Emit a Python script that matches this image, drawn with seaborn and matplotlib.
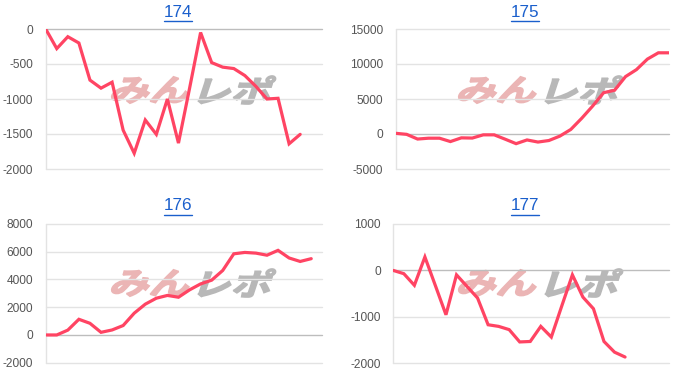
import numpy as np
import pandas as pd
import matplotlib
matplotlib.use("Agg")
import matplotlib.pyplot as plt
from matplotlib.lines import Line2D
from matplotlib.textpath import TextPath
from matplotlib.patches import PathPatch
from matplotlib.transforms import Affine2D
from matplotlib.font_manager import FontProperties
import seaborn as sns

# ---- data ----
titles = ["174", "175", "176", "177"]
values_174 = [0, -280, -110, -200, -730, -845, -760, -1445, -1775, -1300, -1505, -1000,
              -1630, -850, -50, -480, -545, -565, -665, -820, -1000, -990, -1640, -1505]
values_175 = [100, -50, -720, -600, -600, -1080, -550, -580, -120, -120, -740, -1380,
              -850, -1150, -930, -300, 650, 2250, 4000, 5900, 6250, 8200, 9200, 10700,
              11600, 11600]
values_176 = [0, 0, 350, 1130, 840, 190, 360, 680, 1570, 2220, 2650, 2850, 2720, 3250,
              3680, 3950, 4650, 5850, 5950, 5900, 5750, 6100, 5550, 5300, 5500]
values_177 = [0, -70, -320, 290, -330, -955, -95, -345, -595, -1170, -1205, -1275, -1540,
              -1530, -1205, -1435, -760, -95, -575, -825, -1530, -1760, -1865]
ticks_174 = [0, -500, -1000, -1500, -2000]
ticks_175 = [15000, 10000, 5000, 0, -5000]
ticks_176 = [8000, 6000, 4000, 2000, 0, -2000]
ticks_177 = [1000, 0, -1000, -2000]
watermark_a = "みん"
watermark_b = "レポ"
xmax = [25, 25, 25, 26.2]

series = [values_174, values_175, values_176, values_177]
ticks = [ticks_174, ticks_175, ticks_176, ticks_177]

sns.set_style("white")
plt.rcParams["font.family"] = ["Liberation Sans", "Noto Sans CJK JP", "DejaVu Sans"]

W, H = 700, 386
fig = plt.figure(figsize=(7.0, 3.86), dpi=100)

# axes boxes in pixels: left, top, right, bottom
boxes = [(45.7, 29, 322.3, 169), (395.7, 29, 669.3, 169),
         (45.7, 224, 322.3, 362.7), (393.3, 224, 669.3, 363.3)]
title_pos = [(178, 16.7), (525, 16.7), (178, 210.5), (525, 210.5)]
wm_pos = [(195, 90), (542, 90), (195, 283), (542, 283)]

line_color = "#ff4463"
link_color = "#1a5fcc"
fp_wm = FontProperties(family="Noto Sans CJK JP", weight="bold")


def watermark(ax, text, cx, cy, color):
    tp = TextPath((0, 0), text, size=37, prop=fp_wm)
    ext = tp.get_extents()
    tr = (Affine2D().translate(-(ext.x0 + ext.x1) / 2, -(ext.y0 + ext.y1) / 2)
          .skew_deg(14, 0).scale(1.08, 0.82).translate(cx, H - cy))
    ax.add_patch(PathPatch(tp, transform=tr, facecolor=color, edgecolor=color,
                           lw=1.2, zorder=0.5))


for i, (vals, tks) in enumerate(zip(series, ticks)):
    l, t, r, b = boxes[i]
    ax = fig.add_axes([l / W, (H - b) / H, (r - l) / W, (b - t) / H])
    for s in ax.spines.values():
        s.set_visible(False)
    ymin, ymax = min(tks), max(tks)
    for v in tks:
        ax.axhline(v, color="#bdbdbd" if v == 0 else "#e3e3e3", lw=1.0,
                   clip_on=False, zorder=1)
    ax.axvline(0, color="#e3e3e3", lw=1.0, clip_on=False, zorder=1)

    cx, cy = wm_pos[i]
    watermark(ax, watermark_a, cx - 43, cy, "#ebb5b5")
    watermark(ax, watermark_b, cx + 42, cy, "#b8b8b8")

    df = pd.DataFrame({"x": np.arange(len(vals)), "y": vals})
    sns.lineplot(data=df, x="x", y="y", ax=ax, color=line_color, lw=2.3,
                 zorder=3, solid_joinstyle="miter")
    ax.set_xlim(0, xmax[i])
    ax.set_ylim(ymin, ymax)
    ax.set_yticks(tks)
    ax.set_yticklabels([str(v) for v in tks])
    ax.set_xticks([])
    ax.set_xlabel("")
    ax.set_ylabel("")
    ax.tick_params(axis="y", length=0, pad=9, labelsize=8.6, labelcolor="#555555")

    tx, ty = title_pos[i]
    fig.text(tx / W, (H - ty) / H, titles[i], ha="center", va="baseline",
             fontsize=12.3, color=link_color)

fig.canvas.draw()
renderer = fig.canvas.get_renderer()
for t in fig.texts:
    bb = t.get_window_extent(renderer)
    y = bb.y0 - 1.0
    fig.add_artist(Line2D([bb.x0 / W, bb.x1 / W], [y / H, y / H],
                          transform=fig.transFigure, color=link_color, lw=1.0))

fig.savefig("out.png", dpi=100)
